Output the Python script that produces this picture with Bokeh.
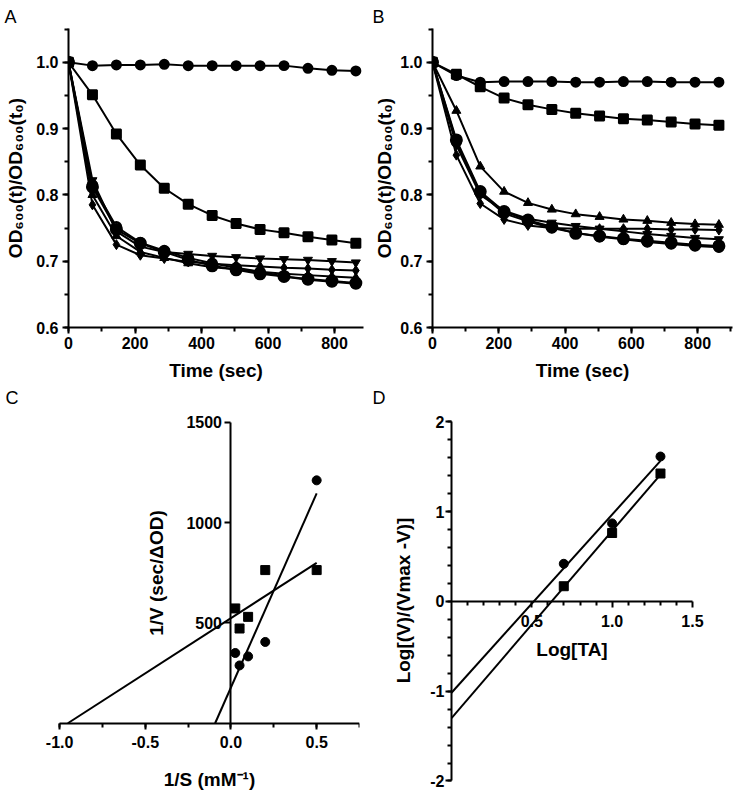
import numpy as np
from bokeh.plotting import figure
from bokeh.layouts import column, row
from bokeh.models import Range1d, SingleIntervalTicker, FixedTicker, PrintfTickFormatter
from bokeh.embed import file_html
from bokeh.resources import INLINE

# ---------------- data ----------------
TIME = [0, 72, 144, 216, 288, 360, 432, 504, 576, 648, 720, 792, 864]

A_CONTROL = [1.000, 0.995, 0.996, 0.996, 0.997, 0.995, 0.995, 0.995, 0.995, 0.995, 0.991, 0.988, 0.987]
A_SQUARE = [1.000, 0.951, 0.892, 0.845, 0.810, 0.786, 0.769, 0.757, 0.748, 0.743, 0.737, 0.732, 0.727]
A_INVTRI = [1.000, 0.822, 0.745, 0.722, 0.714, 0.711, 0.708, 0.706, 0.704, 0.703, 0.702, 0.700, 0.698]
A_DIAMOND = [1.000, 0.785, 0.725, 0.709, 0.704, 0.699, 0.696, 0.694, 0.692, 0.690, 0.689, 0.687, 0.686]
A_TRI = [1.000, 0.800, 0.738, 0.714, 0.705, 0.697, 0.691, 0.688, 0.684, 0.681, 0.679, 0.677, 0.675]
A_OPEN = [1.000, 0.815, 0.752, 0.728, 0.716, 0.705, 0.697, 0.690, 0.684, 0.677, 0.672, 0.669, 0.666]
A_BIG = [1.000, 0.812, 0.748, 0.727, 0.714, 0.702, 0.693, 0.687, 0.681, 0.677, 0.673, 0.670, 0.667]

B_CONTROL = [1.000, 0.980, 0.970, 0.971, 0.971, 0.971, 0.970, 0.970, 0.971, 0.971, 0.970, 0.970, 0.970]
B_SQUARE = [1.000, 0.982, 0.963, 0.946, 0.936, 0.929, 0.923, 0.919, 0.915, 0.913, 0.910, 0.907, 0.905]
B_TRI = [1.000, 0.927, 0.843, 0.805, 0.788, 0.778, 0.771, 0.767, 0.763, 0.761, 0.758, 0.756, 0.755]
B_DIAMOND = [1.000, 0.860, 0.787, 0.763, 0.754, 0.750, 0.749, 0.749, 0.749, 0.749, 0.748, 0.748, 0.747]
B_INVTRI = [1.000, 0.875, 0.800, 0.776, 0.764, 0.758, 0.753, 0.749, 0.745, 0.741, 0.738, 0.735, 0.733]
B_OPEN = [1.000, 0.880, 0.803, 0.772, 0.760, 0.750, 0.743, 0.737, 0.733, 0.729, 0.726, 0.723, 0.721]
B_BIG = [1.000, 0.883, 0.805, 0.775, 0.762, 0.752, 0.742, 0.738, 0.734, 0.731, 0.728, 0.725, 0.723]

INV_S = [0.025, 0.05, 0.1, 0.2, 0.5]
C_CIRCLE = [350, 288, 333, 405, 1210]
C_SQUARE = [572, 472, 530, 763, 763]
C_Y_TICKS = [500, 1000, 1500]

LOG_TA = [0.699, 1.0, 1.301]
D_CIRCLE = [0.42, 0.87, 1.615]
D_SQUARE = [0.17, 0.763, 1.426]
D_X_TICKS = [0.5, 1.0, 1.5]
D_X_MINOR = [0.1, 0.2, 0.3, 0.4, 0.6, 0.7, 0.8, 0.9, 1.1, 1.2, 1.3, 1.4]

FONT = "Liberation Sans"


def base_fig(width, height, xr, yr, left, right, top, bottom, letter, offset, standoff, valign="bottom"):
    p = figure(width=width, height=height, x_range=Range1d(*xr), y_range=Range1d(*yr),
               output_backend="svg", toolbar_location=None,
               min_border_left=left, min_border_right=right,
               min_border_top=top, min_border_bottom=bottom)
    p.grid.visible = False
    p.outline_line_color = None
    p.title.text = letter
    p.title.align = "left"
    p.title.vertical_align = valign
    p.title.offset = offset
    p.title.standoff = standoff
    p.title.text_font = FONT
    p.title.text_font_size = "18px"
    p.title.text_font_style = "normal"
    p.title.text_color = "black"
    for ax in p.axis:
        ax.axis_line_width = 2
        ax.axis_line_color = "black"
        ax.major_tick_line_width = 2
        ax.minor_tick_line_width = 2
        ax.major_tick_line_color = "black"
        ax.minor_tick_line_color = "black"
        ax.major_tick_in = 0
        ax.major_tick_out = 6
        ax.minor_tick_in = 0
        ax.minor_tick_out = 4
        ax.major_label_text_font = FONT
        ax.major_label_text_font_size = "16px"
        ax.major_label_text_font_style = "bold"
        ax.major_label_text_color = "black"
        ax.major_label_standoff = 3
        ax.axis_label_text_font = FONT
        ax.axis_label_text_font_size = "19px"
        ax.axis_label_text_font_style = "bold"
        ax.axis_label_text_color = "black"
    return p


def series(p, x, y, marker, size, fill="black", lw=2):
    p.line(x, y, line_color="black", line_width=2)
    p.scatter(x, y, marker=marker, size=size, fill_color=fill, line_color="black", line_width=lw)


def time_panel(width, left, right, xmax, data, letter, offset, ystand):
    p = base_fig(width, 383, (0, xmax), (0.6, 1.051), left, right, 28, 56, letter, offset, 3)
    p.xaxis.ticker = SingleIntervalTicker(interval=200, num_minor_ticks=2)
    p.yaxis.ticker = SingleIntervalTicker(interval=0.1, num_minor_ticks=2)
    p.yaxis.formatter = PrintfTickFormatter(format="%.1f")
    p.xaxis.axis_label = "Time (sec)"
    p.yaxis.axis_label = "OD\u2086\u2080\u2080(t)/OD\u2086\u2080\u2080(t\u2080)"
    p.xaxis.axis_label_standoff = 8
    p.yaxis.major_label_standoff = 4
    p.yaxis.axis_label_standoff = ystand
    ctrl, sq, tri, dia, inv, opn, big = data
    series(p, TIME, ctrl, "circle", 9)
    series(p, TIME, sq, "square", 9)
    series(p, TIME, tri, "triangle", 9, lw=1)
    series(p, TIME, dia, "diamond", 10, lw=1)
    series(p, TIME, inv, "inverted_triangle", 9, lw=1)
    series(p, TIME, opn, "circle", 9, fill="white", lw=2.5)
    series(p, TIME, big, "circle", 11)
    return p


pA = time_panel(369, 68, 6, 887,
                (A_CONTROL, A_SQUARE, A_TRI, A_DIAMOND, A_INVTRI, A_OPEN, A_BIG), "A", -64, 7)
pB = time_panel(368, 63, 5, 905,
                (B_CONTROL, B_SQUARE, B_TRI, B_DIAMOND, B_INVTRI, B_OPEN, B_BIG), "B", -60, 2)

# ---------------- C: Lineweaver-Burk ----------------
# (frames of C and D share top/bottom; the extra range round the axes holds their texts)
pC = base_fig(369, 408, (-1.1, 0.75), (-335, 1558), 42, 10, 27, 1, "C", -37, 1, "top")
pC.xaxis.ticker = SingleIntervalTicker(interval=0.5, num_minor_ticks=2)
pC.xaxis.formatter = PrintfTickFormatter(format="%.1f")
pC.xaxis.fixed_location = 0
pC.xaxis.bounds = (-1.0, 0.75)
pC.yaxis.ticker = FixedTicker(ticks=C_Y_TICKS, minor_ticks=[])
pC.yaxis.fixed_location = 0
pC.yaxis.bounds = (0, 1500)
pC.xaxis.axis_label = "1/S (mM\u207b\u00b9)"
pC.yaxis.axis_label = "1/V (sec/\u0394OD)"
pC.xaxis.major_label_standoff = 7
pC.xaxis.axis_label_standoff = 17
pC.yaxis.major_label_standoff = 3
pC.yaxis.axis_label_standoff = 16
for yv in (C_CIRCLE, C_SQUARE):
    m, b = np.polyfit(INV_S, yv, 1)
    x0 = -b / m
    x1 = max(INV_S)
    pC.line([x0, x1], [m * x0 + b, m * x1 + b], line_color="black", line_width=2)
pC.scatter(INV_S, C_CIRCLE, marker="circle", size=9, fill_color="black", line_color="black")
pC.scatter(INV_S, C_SQUARE, marker="square", size=9, fill_color="black", line_color="black")

# ---------------- D: Hill plot ----------------
pD = base_fig(368, 408, (0, 1.6), (-2.106, 2.128), 82, 29, 27, 1, "D", -79, 1, "top")
pD.xaxis.ticker = FixedTicker(ticks=D_X_TICKS, minor_ticks=D_X_MINOR)
pD.xaxis.formatter = PrintfTickFormatter(format="%.1f")
pD.yaxis.ticker = SingleIntervalTicker(interval=1, num_minor_ticks=5)
pD.yaxis.formatter = PrintfTickFormatter(format="%d")
pD.yaxis.bounds = (-2, 2)
pD.xaxis.fixed_location = 0
pD.xaxis.bounds = (0, 1.5)
pD.xaxis.axis_label = "Log[TA]"
pD.yaxis.axis_label = "Log[(V)/(Vmax -V)]"
pD.xaxis.major_label_standoff = 8
pD.xaxis.axis_label_standoff = 8
pD.yaxis.major_label_standoff = 1
pD.yaxis.axis_label_standoff = 13
for yv in (D_CIRCLE, D_SQUARE):
    m, b = np.polyfit(LOG_TA, yv, 1)
    x0 = 0.0
    x1 = max(LOG_TA)
    pD.line([x0, x1], [m * x0 + b, m * x1 + b], line_color="black", line_width=2)
pD.scatter(LOG_TA, D_CIRCLE, marker="circle", size=9, fill_color="black", line_color="black")
pD.scatter(LOG_TA, D_SQUARE, marker="square", size=9, fill_color="black", line_color="black")

layout = column(row(pA, pB), row(pC, pD))
open("out.html", "w").write(file_html(layout, INLINE))
